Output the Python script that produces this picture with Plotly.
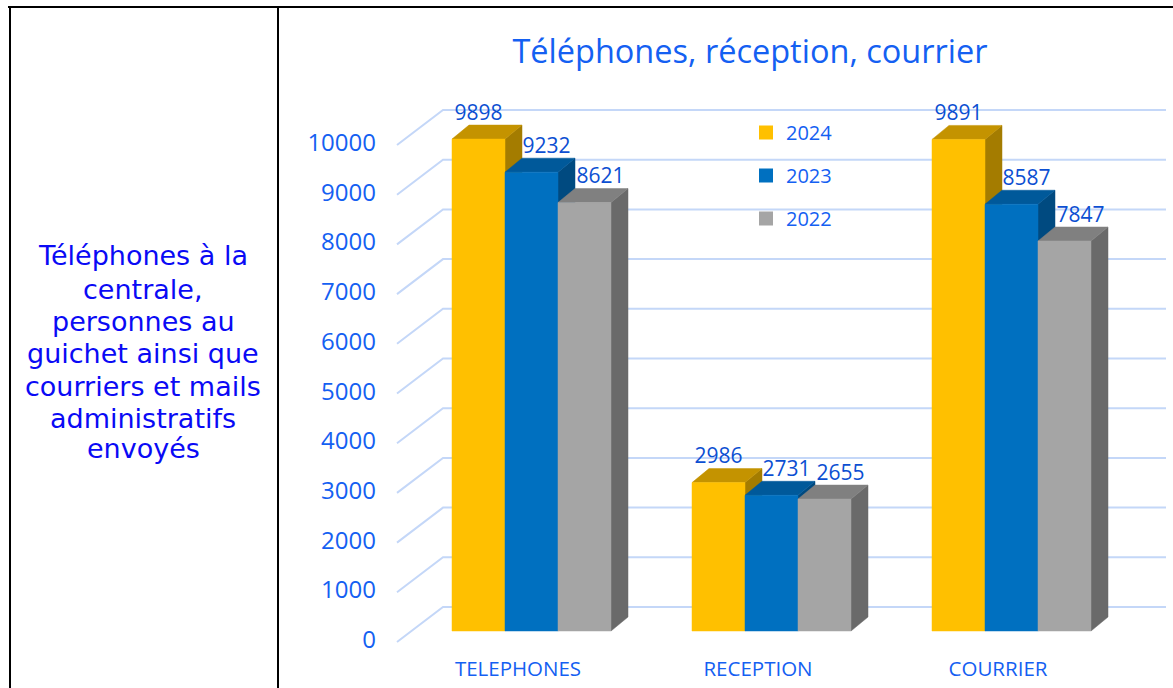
import plotly.graph_objects as go

# ---------------- data ----------------
categories = ["TELEPHONES", "RECEPTION", "COURRIER"]
years = ["2024", "2023", "2022"]
v2024 = [9898, 2986, 9891]
v2023 = [9232, 2731, 8587]
v2022 = [8621, 2655, 7847]
tick_values = [0, 1000, 2000, 3000, 4000, 5000, 6000, 7000, 8000, 9000, 10000]
side_text = ["Téléphones à la", "centrale,", "personnes au", "guichet ainsi que",
             "courriers et mails", "administratifs", "envoyés"]
title_text = "Téléphones, réception, courrier"

# ---------------- styles ----------------
series_values = [v2024, v2023, v2022]
front_colors = ["#FFC000", "#0070C0", "#A5A5A5"]
top_colors = ["#C49300", "#00599A", "#808080"]
side_colors = ["#A47C00", "#004A80", "#6A6A6A"]
label_shift_px = [0, 15, 16]
TXT_BLUE = "#1460F2"
LBL_BLUE = "#0C4FD2"
GRID = "#C4D7F8"
FONT = "Open Sans"

W, H = 1173, 688
PX0, PXU = 531.5, 240.0    # pixel of x=0, pixels per category
PY0, PYU = 631.0, 0.0497   # pixel of value 0 (bar front), pixels per unit


def X(px):
    return (px - PX0) / PXU


def V(py):
    return (PY0 - py) / PYU


DX = 17 / PXU
DY = 14 / PYU
BW = 53 / PXU
BACK = 24 / PYU     # back wall offset
FRONT = -11 / PYU   # floor front edge offset

fig = go.Figure()

# gridlines (front diagonal + back wall)
gx, gy = [], []
for t in tick_values:
    gx += [X(397), X(443), X(1166), None]
    gy += [t + FRONT, t + BACK, t + BACK, None]
fig.add_trace(go.Scatter(x=gx, y=gy, mode="lines", line=dict(color=GRID, width=2),
                         hoverinfo="skip", showlegend=False))

# y tick labels
fig.add_trace(go.Scatter(x=[X(376)] * len(tick_values), y=[t + FRONT for t in tick_values],
                         mode="text", text=[str(t) for t in tick_values],
                         textposition="middle left",
                         textfont=dict(family=FONT, size=24, color=TXT_BLUE),
                         hoverinfo="skip", showlegend=False))

# 3D bars
for s, vals in enumerate(series_values):
    sx, sy, tx, ty, fx, fy = [], [], [], [], [], []
    for i, v in enumerate(vals):
        L = i - 1.5 * BW + s * BW
        R = L + BW
        sx += [R, R, R + DX, R + DX, R, None]
        sy += [0, v, v + DY, DY, 0, None]
        tx += [L, L + DX, R + DX, R, L, None]
        ty += [v, v + DY, v + DY, v, v, None]
        fx += [L, L, R, R, L, None]
        fy += [0, v, v, 0, 0, None]
    for xs, ys, col in ((sx, sy, side_colors[s]), (tx, ty, top_colors[s]), (fx, fy, front_colors[s])):
        fig.add_trace(go.Scatter(x=xs, y=ys, mode="lines", fill="toself", fillcolor=col,
                                 line=dict(color=col, width=0.5), hoverinfo="skip",
                                 showlegend=False))

# data labels
for s, vals in enumerate(series_values):
    xs = [i - 1.5 * BW + s * BW + BW / 2 + label_shift_px[s] / PXU for i in range(len(vals))]
    fig.add_trace(go.Scatter(x=xs, y=[v + DY for v in vals], mode="text",
                             text=[str(v) for v in vals], textposition="top center",
                             textfont=dict(family=FONT, size=21, color=LBL_BLUE),
                             hoverinfo="skip", showlegend=False))

# category labels
fig.add_trace(go.Scatter(x=[i + X(518) for i in range(len(categories))],
                         y=[V(671)] * len(categories), mode="text", text=categories,
                         textposition="middle center",
                         textfont=dict(family=FONT, size=20.5, color=TXT_BLUE),
                         hoverinfo="skip", showlegend=False))

# legend entries
for s, yr in enumerate(years):
    fig.add_trace(go.Scatter(x=[None], y=[None], mode="markers", name=yr, legendgroup=yr,
                             marker=dict(symbol="square", size=14, color=front_colors[s])))

shapes = [
    dict(type="line", xref="paper", yref="paper", x0=8 / W, x1=1, y0=1 - 7 / H, y1=1 - 7 / H,
         line=dict(color="black", width=2)),
    dict(type="line", xref="paper", yref="paper", x0=10 / W, x1=10 / W, y0=0, y1=1 - 7 / H,
         line=dict(color="black", width=2)),
    dict(type="line", xref="paper", yref="paper", x0=278 / W, x1=278 / W, y0=0, y1=1 - 7 / H,
         line=dict(color="black", width=2)),
]

annotations = []
line_y = [255, 289, 321, 353, 386, 418, 448]
for txt, py in zip(side_text, line_y):
    annotations.append(dict(xref="paper", yref="paper", x=143 / W, y=1 - py / H,
                            text=txt, showarrow=False, xanchor="center", yanchor="middle",
                            font=dict(family="DejaVu Sans", size=27, color="#0A0AF5")))

fig.update_layout(
    width=W, height=H,
    margin=dict(l=0, r=0, t=0, b=0),
    paper_bgcolor="white", plot_bgcolor="white",
    xaxis=dict(range=[X(0), X(W)], visible=False, fixedrange=True),
    yaxis=dict(range=[V(H), V(0)], visible=False, fixedrange=True),
    title=dict(text=title_text, x=750 / W, y=1 - 52 / H, xanchor="center", yanchor="middle",
               font=dict(family=FONT, size=32.5, color=TXT_BLUE)),
    legend=dict(x=746 / W, y=1 - 113 / H, xanchor="left", yanchor="top",
                font=dict(family=FONT, size=20, color=TXT_BLUE),
                bgcolor="rgba(0,0,0,0)", tracegroupgap=14),
    shapes=shapes,
    annotations=annotations,
    showlegend=True,
)

fig.write_html("out.html", config={"displayModeBar": False},
               post_script="document.body.style.margin='0px';")
